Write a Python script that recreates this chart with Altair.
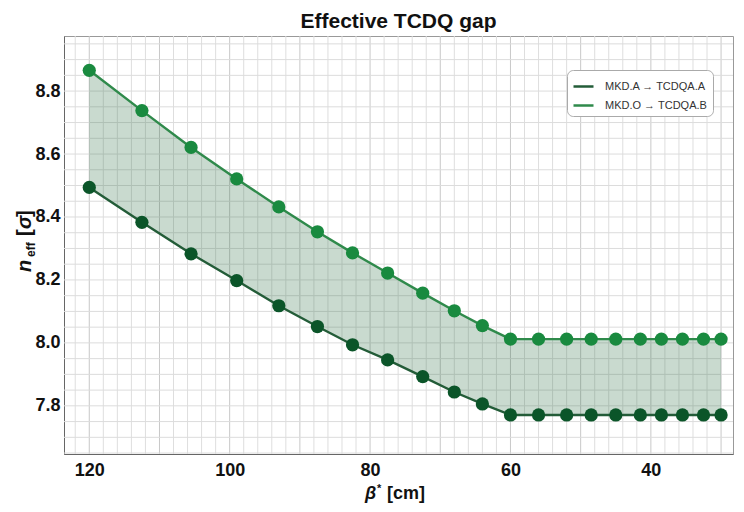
import altair as alt
import pandas as pd

FONT = "Liberation Sans"

# beta* values [cm]
beta = [120, 112.5, 105.5, 99, 93, 87.5, 82.5, 77.5, 72.5, 68, 64,
        60, 56, 52, 48.5, 45, 41.5, 38.5, 35.5, 32.5, 30]
# MKD.A -> TCDQA.A (lower, dark)
lower = [8.494, 8.383, 8.283, 8.198, 8.118, 8.052, 7.994, 7.946, 7.893, 7.844, 7.806,
         7.771, 7.771, 7.771, 7.771, 7.771, 7.771, 7.771, 7.771, 7.771, 7.771]
# MKD.O -> TCDQA.B (upper, lighter)
upper = [8.866, 8.738, 8.621, 8.521, 8.432, 8.353, 8.286, 8.222, 8.158, 8.102, 8.055,
         8.012, 8.012, 8.012, 8.012, 8.012, 8.012, 8.012, 8.012, 8.012, 8.012]

series_names = ["MKD.A → TCDQA.A", "MKD.O → TCDQA.B"]
line_colors = ["#235c38", "#2f8a4b"]
point_colors = ["#0b5529", "#198a3f"]

x_ticks = [120, 100, 80, 60, 40]
y_ticks = [7.8, 8.0, 8.2, 8.4, 8.6, 8.8]

df = pd.DataFrame({
    "beta": beta * 2,
    "n": lower + upper,
    "series": [series_names[0]] * len(beta) + [series_names[1]] * len(beta),
})
band = pd.DataFrame({"beta": beta, "lo": lower, "hi": upper})

xs = alt.Scale(domain=[28.3, 123.6], reverse=True, nice=False, zero=False)
ys = alt.Scale(domain=[7.647, 8.975], nice=False, zero=False)

xaxis = alt.Axis(values=x_ticks, format="d", title=None, grid=False, ticks=False,
                 domainColor="#666", labelFont=FONT, labelFontSize=18,
                 labelFontWeight="bold", labelColor="#111", labelPadding=7,
                 labelFlush=False)
yaxis = alt.Axis(values=y_ticks, format=".1f", title=None, grid=False, ticks=False,
                 domainColor="#666", labelFont=FONT, labelFontSize=18,
                 labelFontWeight="bold", labelColor="#111", labelPadding=4)

X = lambda f: alt.X(f, scale=xs, axis=xaxis)
Y = lambda f: alt.Y(f, scale=ys, axis=yaxis)

xgrid_minor = pd.DataFrame({"g": [v for v in range(30, 124, 2) if v % 10 != 0]})
xgrid_major = pd.DataFrame({"g": list(range(30, 124, 10))})
ygrid = pd.DataFrame({"g": [round(7.65 + 0.05 * i, 2) for i in range(27)]})

gx1 = alt.Chart(xgrid_minor).mark_rule(color="#dedede", strokeWidth=1).encode(x=X("g:Q"))
gx2 = alt.Chart(xgrid_major).mark_rule(color="#c8c8c8", strokeWidth=1).encode(x=X("g:Q"))
gy = alt.Chart(ygrid).mark_rule(color="#dcdcdc", strokeWidth=1).encode(y=Y("g:Q"))

area = alt.Chart(band).mark_area(color="#2f6f45", opacity=0.26).encode(
    x=X("beta:Q"),
    y=Y("lo:Q"),
    y2="hi:Q",
)

lines = alt.Chart(df).mark_line(strokeWidth=2.4).encode(
    x=X("beta:Q"),
    y=Y("n:Q"),
    stroke=alt.Stroke("series:N",
                      scale=alt.Scale(domain=series_names, range=line_colors),
                      legend=alt.Legend(
                          title=None, orient="none", legendX=503, legendY=34,
                          symbolType="stroke", symbolSize=400, symbolStrokeWidth=2.5,
                          labelFont=FONT, labelFontSize=11, labelColor="#333",
                          labelOffset=10, rowPadding=2, padding=5,
                          strokeColor="#aaa", cornerRadius=6, fillColor="white")),
    detail="series:N",
)

points = alt.Chart(df).mark_point(filled=True, size=175, opacity=1).encode(
    x=X("beta:Q"),
    y=Y("n:Q"),
    fill=alt.Fill("series:N",
                  scale=alt.Scale(domain=series_names, range=point_colors),
                  legend=None),
    shape=alt.value("circle"),
)


def txt(s, x, y, size, style="normal", angle=0):
    return alt.Chart(pd.DataFrame({"t": [s]})).mark_text(
        text=s, font=FONT, fontSize=size, fontWeight="bold", fontStyle=style,
        angle=angle, align="left", baseline="alphabetic", color="#111",
    ).encode(x=alt.value(x), y=alt.value(y))


# x-axis title: beta* [cm]
xt = [
    txt("β", 301, 463, 18, "italic"),
    txt("*", 313, 456, 11),
    txt("[cm]", 323, 463, 18),
]
# y-axis title: n_eff [sigma]
yt = [
    txt("n", -33, 236, 20, "italic", 270),
    txt("eff", -29, 221, 12, "normal", 270),
    txt("[", -33, 200, 20, "normal", 270),
    txt("σ", -33, 193, 20, "italic", 270),
    txt("]", -33, 181, 20, "normal", 270),
]

chart = alt.layer(gx1, gx2, gy, area, lines, points, *xt, *yt).properties(
    width=669, height=418,
    title=alt.TitleParams("Effective TCDQ gap", font=FONT, fontSize=21,
                          fontWeight="bold", color="#111", anchor="middle", offset=4),
    autosize=alt.AutoSizeParams(type="none"),
    padding={"left": 56, "top": 28, "right": 3, "bottom": 50},
).configure_view(stroke="#999", strokeWidth=1)

chart.save("out.html", embed_options={"renderer": "svg", "actions": False})
